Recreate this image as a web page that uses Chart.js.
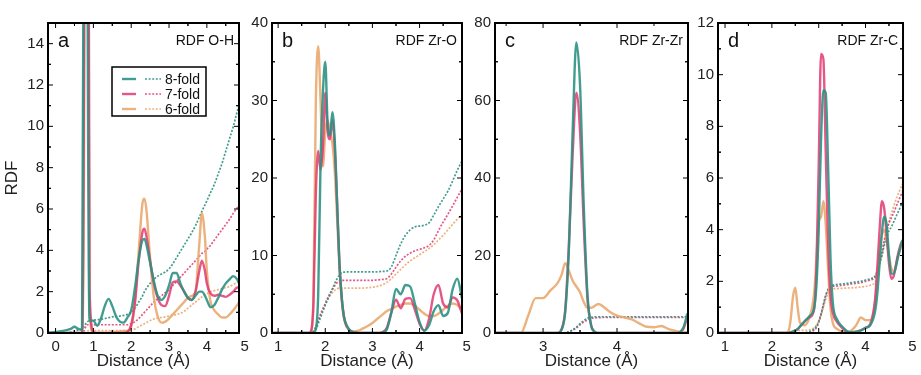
<!DOCTYPE html>
<html>
<head>
<meta charset="utf-8">
<script src="https://cdn.jsdelivr.net/npm/chart.js@4.4.1/dist/chart.umd.min.js"></script>
<style>
  html, body { margin: 0; padding: 0; background: #fff; }
  #wrap { position: relative; width: 921px; height: 375px; }
  #wrap canvas { position: absolute; left: 0; top: 0; }
</style>
</head>
<body>
<div id="wrap">
  <canvas id="chartA" width="921" height="375"></canvas>
  <canvas id="chartB" width="921" height="375"></canvas>
  <canvas id="chartC" width="921" height="375"></canvas>
  <canvas id="chartD" width="921" height="375"></canvas>
</div>
<script>
// series names (solid = RDF, dotted = running coordination number)
var seriesNames = ['8-fold', '7-fold', '6-fold'];

// ---- panel a : RDF O-H ----
var xA = [-0.2, 0, 0.2, 0.4, 0.5, 0.6, 0.7,
          0.75, 0.8, 0.85, 0.9,
          1.0, 1.1, 1.2, 1.3, 1.4, 1.5, 1.6, 1.7, 1.8, 1.9,
          2.0, 2.1, 2.2, 2.3, 2.35, 2.4,
          2.5, 2.6, 2.7, 2.8, 2.9, 3.0, 3.1, 3.2, 3.3, 3.4, 3.5, 3.6, 3.7, 3.8,
          3.87, 3.95,
          4.0, 4.1, 4.2, 4.3, 4.4, 4.5, 4.6, 4.7, 4.8, 4.9];
var tealA = [0, 0.05, 0.1, 0.2, 0.3, 0.2, 0.15,
             25, 60, 15, 0.6,
             0.6, 0.35, 0.7, 1.3, 1.65, 1.3, 0.8, 0.55, 0.5, 0.75,
             1.1, 2.2, 3.6, 4.5, 4.55, 4.3,
             3.4, 2.5, 1.8, 1.6, 1.8, 2.3, 2.9, 2.9, 2.4, 2.0, 1.7, 1.6, 1.8, 2.0,
             2.0, 1.8,
             1.6, 1.25, 1.35, 1.7, 2.1, 2.4, 2.6, 2.75, 2.6, 2.2];
var pinkA = [0, 0, 0, 0, 0, 0, 0,
             12, 55, 40, 2,
             0.05, 0, 0, 0, 0, 0, 0, 0, 0, 0.05,
             0.4, 1.5, 3.5, 4.9, 5.05, 4.7,
             3.5, 2.4, 1.7, 1.35, 1.3, 1.8, 2.45, 2.5, 2.3, 2.0, 1.7, 1.6, 2.0, 3.0,
             3.5, 3.0,
             2.4, 1.9, 1.8, 1.85, 1.8, 1.75, 1.85, 2.0, 2.2, 2.2];
var tanA = [0, 0, 0, 0, 0, 0, 0,
            8, 40, 25, 1,
            0, 0, 0, 0, 0, 0.02, 0.05, 0.08, 0.1, 0.1,
            0.3, 1.5, 4.0, 6.3, 6.5, 6.0,
            3.6, 1.7, 0.8, 0.5, 0.55, 0.7, 0.9, 1.1, 1.3, 1.5, 1.7, 1.8, 2.0, 4.3,
            5.8, 4.6,
            3.0, 1.5, 1.1, 0.9, 0.75, 0.75, 0.9, 1.1, 1.35, 1.6];
var tealCumA = [0, 0, 0, 0.05, 0.1, 0.15, 0.2,
                0.3, 0.45, 0.55, 0.6,
                0.62, 0.64, 0.66, 0.7, 0.74, 0.78, 0.8, 0.82, 0.85, 0.9,
                1.0, 1.2, 1.5, 1.8, 2.0, 2.15,
                2.4, 2.6, 2.75, 2.85, 2.95, 3.1, 3.35, 3.65, 3.95, 4.25, 4.55, 4.85, 5.2, 5.6,
                5.9, 6.2,
                6.4, 6.8, 7.2, 7.7, 8.2, 8.8, 9.4, 10.0, 10.7, 11.3];
var pinkCumA = [0, 0, 0, 0, 0, 0, 0,
                0.1, 0.3, 0.4, 0.4,
                0.4, 0.4, 0.4, 0.4, 0.4, 0.4, 0.4, 0.4, 0.4, 0.4,
                0.45, 0.55, 0.7, 0.9, 1.0, 1.1,
                1.3, 1.5, 1.65, 1.8, 1.95, 2.1, 2.3, 2.5, 2.7, 2.9, 3.1, 3.3, 3.5, 3.7,
                3.85, 3.95,
                4.05, 4.25, 4.5, 4.75, 5.0, 5.25, 5.5, 5.8, 6.05, 6.3];
var tanCumA = [0, 0, 0, 0, 0, 0, 0,
               0, 0.05, 0.1, 0.12,
               0.12, 0.12, 0.12, 0.12, 0.12, 0.12, 0.12, 0.12, 0.12, 0.12,
               0.15, 0.2, 0.3, 0.4, 0.45, 0.5,
               0.6, 0.68, 0.72, 0.75, 0.78, 0.82, 0.86, 0.9, 0.95, 1.05, 1.2, 1.35, 1.5, 1.65,
               1.75, 1.85,
               1.9, 2.0, 2.05, 2.1, 2.15, 2.2, 2.25, 2.35, 2.45, 2.55];
var xTicksA = [0, 1, 2, 3, 4, 5];
var yTicksA = [0, 2, 4, 6, 8, 10, 12, 14];

// ---- panel b : RDF Zr-O ----
var xB = [0.9, 1.0, 1.2, 1.4, 1.6, 1.65,
          1.7, 1.75, 1.8, 1.85, 1.9, 1.95, 2.0, 2.05, 2.1, 2.15, 2.2, 2.25, 2.3, 2.35, 2.4,
          2.5, 2.6, 2.7, 2.8, 2.9, 3.0, 3.1, 3.2, 3.3,
          3.4, 3.5, 3.6, 3.7, 3.8, 3.9, 4.0, 4.1, 4.2, 4.3, 4.4, 4.5, 4.6, 4.7, 4.8, 4.9];
var tealB = [0, 0, 0, 0, 0, 0,
             0, 0.1, 0.5, 5, 22, 31, 35, 27, 25.5, 28.5, 25, 17, 9, 4.5, 2,
             0.5, 0.1, 0, 0, 0, 0, 0, 0.05, 0.4,
             2.6, 5.7, 5.0, 6.2, 6.0, 3.8, 1.4, 0.3, 1.0, 2.8, 3.6, 2.2, 2.6, 5.6, 7.0, 4.5];
var pinkB = [0, 0, 0, 0, 0, 0,
             0.3, 4, 18, 23.5, 21, 24, 31, 26, 25, 27.5, 24, 17, 9, 4.5, 2,
             0.5, 0.1, 0, 0, 0, 0, 0, 0.1, 0.6,
             2.6, 4.3, 3.2, 4.4, 4.5, 3.0, 1.2, 0.3, 1.8, 5.0, 6.2, 3.8, 3.3, 4.6, 4.2, 2.5];
var tanB = [0, 0, 0, 0, 0, 0,
            0.2, 5, 30, 37, 30, 21.5, 26, 27.5, 26, 24.5, 21, 15, 8.5, 4.2, 1.8,
            0.4, 0.2, 0.3, 0.6, 0.9, 1.3, 1.8, 2.3, 2.8,
            3.1, 3.4, 3.6, 3.8, 3.8, 3.5, 3.0, 2.5, 2.2, 2.2, 2.5, 3.0, 3.5, 3.8, 3.6, 3.0];
var tealCumB = [0, 0, 0, 0, 0, 0,
                0, 0.1, 0.5, 1.2, 2.0, 2.8, 3.6, 4.3, 5.0, 5.7, 6.4, 7.0, 7.5, 7.8, 7.85,
                7.9, 7.9, 7.9, 7.9, 7.9, 7.9, 7.9, 7.95, 8.0,
                8.5, 10.0, 11.5, 12.6, 13.3, 13.7, 13.8, 13.9, 14.2, 15.2, 16.3, 17.3, 18.3, 19.6, 21.0, 22.2];
var pinkCumB = [0, 0, 0, 0, 0, 0,
                0, 0.2, 0.8, 1.6, 2.4, 3.1, 3.8, 4.5, 5.1, 5.6, 6.1, 6.5, 6.7, 6.8, 6.8,
                6.8, 6.8, 6.8, 6.8, 6.8, 6.8, 6.85, 6.9, 7.0,
                7.6, 8.5, 9.3, 9.9, 10.3, 10.6, 10.8, 11.0, 11.3, 12.0, 13.2, 14.3, 15.3, 16.4, 17.5, 18.6];
var tanCumB = [0, 0, 0, 0, 0, 0,
               0, 0.2, 0.8, 1.6, 2.4, 3.1, 3.7, 4.3, 4.8, 5.2, 5.5, 5.7, 5.8, 5.8, 5.8,
               5.8, 5.8, 5.8, 5.8, 5.85, 5.9, 6.0, 6.2, 6.5,
               7.0, 7.6, 8.2, 8.8, 9.3, 9.7, 10.1, 10.5, 10.9, 11.4, 12.0, 12.6, 13.3, 14.0, 14.7, 15.3];
var xTicksB = [1, 2, 3, 4, 5];
var yTicksB = [0, 10, 20, 30, 40];

// ---- panel c : RDF Zr-Zr ----
var xC = [2.3, 2.5, 2.7, 2.8, 2.9, 3.0, 3.1, 3.2,
          3.25, 3.3, 3.35, 3.4, 3.45, 3.5, 3.55, 3.6, 3.65, 3.7, 3.75, 3.8,
          3.9, 4.0, 4.1, 4.2, 4.3, 4.4, 4.5, 4.6, 4.7, 4.8, 4.85, 4.9, 4.95];
var tealC = [0, 0, 0, 0, 0, 0, 0, 0,
             0.8, 5.5, 22, 52, 75, 64, 33, 10, 2, 0.3, 0, 0,
             0, 0, 0, 0, 0, 0, 0, 0, 0, 0, 0.2, 1.5, 5];
var pinkC = [0, 0, 0, 0, 0, 0, 0, 0,
             1, 6, 23, 46, 62, 52, 28, 9, 2, 0.3, 0, 0,
             0, 0, 0, 0, 0, 0, 0, 0, 0, 0, 0.2, 1.2, 4];
var tanC = [0, 0, 0, 4.5, 9, 9, 11, 13,
            15, 18, 16, 13.5, 12, 10.5, 8, 6.5, 6.5, 7, 7.5, 7,
            5.5, 4.5, 4, 3.5, 2.5, 1.6, 1.5, 1.8, 1.0, 0.5, 0.3, 0.2, 0.2];
var tealCumC = [0, 0, 0, 0, 0, 0, 0, 0,
                0, 0.1, 0.3, 0.8, 1.5, 2.4, 3.2, 3.8, 4.05, 4.15, 4.2, 4.2,
                4.2, 4.2, 4.2, 4.2, 4.2, 4.2, 4.2, 4.2, 4.2, 4.2, 4.2, 4.2, 4.2];
var pinkCumC = [0, 0, 0, 0, 0, 0, 0, 0,
                0, 0.1, 0.3, 0.7, 1.3, 2.1, 2.8, 3.4, 3.75, 3.9, 3.95, 4.0,
                4.0, 4.0, 4.0, 4.0, 4.0, 4.0, 4.0, 4.0, 4.0, 4.0, 4.0, 4.0, 4.0];
var xTicksC = [3, 4];
var yTicksC = [0, 20, 40, 60, 80];

// ---- panel d : RDF Zr-C ----
var xD = [0.8, 1.0, 1.5, 2.0, 2.3,
          2.35, 2.4, 2.45, 2.5, 2.55, 2.6, 2.7, 2.8, 2.9,
          2.95, 3.0, 3.05, 3.1, 3.15, 3.2, 3.25, 3.3,
          3.4, 3.5, 3.6, 3.7, 3.8, 3.9, 4.0, 4.1, 4.2,
          4.25, 4.3, 4.35, 4.4, 4.45, 4.5, 4.55, 4.6, 4.7, 4.8, 4.9];
var tealD = [0, 0, 0, 0, 0,
             0, 0.02, 0.05, 0.1, 0.15, 0.25, 0.45, 0.65, 0.95,
             1.8, 4.0, 7.5, 9.4, 9.3, 6.5, 3.0, 1.2,
             0.5, 0.25, 0.08, 0.03, 0.05, 0.1, 0.2, 0.3, 0.8,
             1.5, 2.7, 3.9, 4.5, 4.2, 3.0, 2.3, 2.3, 3.0, 3.6, 3.5];
var pinkD = [0, 0, 0, 0, 0,
             0, 0.02, 0.05, 0.1, 0.15, 0.25, 0.45, 0.6, 0.9,
             2.5, 6.5, 10.8, 10.6, 7.0, 3.5, 1.5, 0.8,
             0.4, 0.2, 0.05, 0.02, 0.05, 0.1, 0.2, 0.35, 1.2,
             2.5, 4.0, 5.1, 4.8, 3.8, 2.7, 2.1, 2.2, 3.1, 3.6, 3.4];
var tanD = [0, 0, 0, 0, 0,
            0.05, 0.5, 1.4, 1.75, 1.0, 0.4, 0.3, 0.6, 1.5,
            2.8, 4.3, 4.5, 5.1, 4.2, 2.5, 1.0, 0.4,
            0.15, 0.05, 0.02, 0.1, 0.3, 0.6, 0.5, 0.5, 1.2,
            2.2, 3.2, 3.8, 4.0, 3.6, 3.0, 2.5, 2.4, 3.0, 3.5, 3.6];
var tealCumD = [0, 0, 0, 0, 0,
                0, 0, 0, 0, 0, 0, 0, 0.05, 0.15,
                0.25, 0.45, 0.75, 1.1, 1.45, 1.7, 1.8, 1.85,
                1.88, 1.9, 1.92, 1.95, 1.98, 2.0, 2.05, 2.1, 2.2,
                2.4, 2.7, 3.0, 3.4, 3.7, 3.95, 4.1, 4.3, 4.7, 5.1, 5.4];
var pinkCumD = [0, 0, 0, 0, 0,
                0, 0, 0, 0, 0, 0, 0, 0.03, 0.1,
                0.2, 0.4, 0.7, 1.1, 1.45, 1.65, 1.75, 1.8,
                1.82, 1.85, 1.87, 1.9, 1.92, 1.95, 2.0, 2.05, 2.15,
                2.4, 2.75, 3.15, 3.6, 3.95, 4.25, 4.45, 4.65, 5.1, 5.5, 5.8];
var tanCumD = [0, 0, 0, 0, 0,
               0, 0, 0.02, 0.05, 0.08, 0.1, 0.1, 0.12, 0.2,
               0.3, 0.45, 0.7, 1.0, 1.3, 1.55, 1.65, 1.7,
               1.72, 1.73, 1.74, 1.75, 1.76, 1.78, 1.8, 1.85, 1.95,
               2.2, 2.6, 3.0, 3.5, 3.9, 4.3, 4.6, 4.9, 5.4, 5.8, 6.1];
var xTicksD = [1, 2, 3, 4, 5];
var yTicksD = [0, 2, 4, 6, 8, 10, 12];

// colours
var tealColor = 'rgba(46,146,132,0.9)';
var pinkColor = 'rgba(226,58,112,0.85)';
var tanColor = 'rgba(233,170,112,0.9)';
var seriesColors = [tealColor, pinkColor, tanColor];
var fontFamily = "'Liberation Sans', Arial, sans-serif";

function pts(xs, ys) {
    return xs.map(function (v, i) { return { x: v, y: ys[i] }; });
}

function solidLine(label, xs, ys, color) {
    return {
        label: label, data: pts(xs, ys), borderColor: color, borderWidth: 2.4,
        pointRadius: 0, fill: false, cubicInterpolationMode: 'monotone'
    };
}

function dottedLine(label, xs, ys, color) {
    return {
        label: label, data: pts(xs, ys), borderColor: color, borderWidth: 1.7,
        borderDash: [2, 1.6], pointRadius: 0, fill: false, cubicInterpolationMode: 'monotone'
    };
}

// frame, inward tick marks, panel letter + title, and the legend box of panel a
var panelPlugin = {
    id: 'panelDeco',
    afterDraw: function (chart, args, opts) {
        var c = chart.ctx, a = chart.chartArea;
        c.save();
        c.strokeStyle = '#000';
        c.lineWidth = 1;
        var xs = chart.scales.x, ys = chart.scales.y;
        function marks(scale, horizontal) {
            var vals = scale.ticks.map(function (t) { return t.value; });
            var step = vals[1] - vals[0];
            var all = [];
            vals.forEach(function (v) { all.push([v, 5]); all.push([v + step / 2, 3]); all.push([v - step / 2, 3]); });
            all.forEach(function (m) {
                var p = scale.getPixelForValue(m[0]);
                c.beginPath();
                if (horizontal) {
                    if (p <= a.left + 1 || p >= a.right - 1) return;
                    c.moveTo(p, a.bottom); c.lineTo(p, a.bottom - m[1]);
                    c.moveTo(p, a.top); c.lineTo(p, a.top + m[1]);
                } else {
                    if (p <= a.top + 1 || p >= a.bottom - 1) return;
                    c.moveTo(a.left, p); c.lineTo(a.left + m[1], p);
                    c.moveTo(a.right, p); c.lineTo(a.right - m[1], p);
                }
                c.stroke();
            });
        }
        marks(xs, true);
        marks(ys, false);
        c.lineWidth = 2;
        c.strokeRect(a.left, a.top, a.right - a.left, a.bottom - a.top);

        c.fillStyle = '#111';
        c.textBaseline = 'middle';
        c.font = '20px ' + fontFamily;
        c.textAlign = 'left';
        c.fillText(opts.letter, a.left + 10, a.top + 18);
        c.font = '14px ' + fontFamily;
        c.textAlign = 'right';
        c.fillText(opts.title, a.right - 5, a.top + 18);

        if (opts.legend) {
            var bx = a.left + 64, by = a.top + 44, bw = 94, bh = 49;
            c.fillStyle = '#fff';
            c.fillRect(bx, by, bw, bh);
            c.lineWidth = 1.5;
            c.strokeStyle = '#000';
            c.strokeRect(bx, by, bw, bh);
            c.font = '14px ' + fontFamily;
            c.textAlign = 'left';
            seriesNames.forEach(function (name, i) {
                var y = by + 12 + i * 15;
                c.strokeStyle = seriesColors[i];
                c.lineWidth = 2.4;
                c.setLineDash([]);
                c.beginPath(); c.moveTo(bx + 10, y); c.lineTo(bx + 24, y); c.stroke();
                c.lineWidth = 1.7;
                c.setLineDash([2, 1.6]);
                c.beginPath(); c.moveTo(bx + 33, y); c.lineTo(bx + 49, y); c.stroke();
                c.setLineDash([]);
                c.fillStyle = '#111';
                c.fillText(name, bx + 53, y + 1);
            });
        }
        c.restore();
    }
};

function makePanel(id, p) {
    var ctx = document.getElementById(id).getContext('2d');
    var sets = [
        solidLine(seriesNames[0], p.x, p.teal, tealColor),
        solidLine(seriesNames[1], p.x, p.pink, pinkColor),
        solidLine(seriesNames[2], p.x, p.tan, tanColor)
    ];
    p.cums.forEach(function (cum, i) {
        sets.push(dottedLine(seriesNames[i] + ' N', p.x, cum, seriesColors[i]));
    });
    return new Chart(ctx, {
        type: 'line',
        data: { datasets: sets },
        options: {
            responsive: false,
            animation: false,
            layout: { padding: { left: p.left - p.yWidth, right: 921 - p.right, top: 23, bottom: 0 } },
            scales: {
                x: {
                    type: 'linear', min: p.xMin, max: p.xMax,
                    grid: { display: false, drawTicks: false },
                    border: { display: false },
                    ticks: { color: '#222', font: { size: 15, family: fontFamily }, padding: 5, autoSkip: false, maxRotation: 0 },
                    afterBuildTicks: function (s) { s.ticks = p.xTicks.map(function (v) { return { value: v }; }); },
                    afterFit: function (s) { s.height = 42; },
                    title: { display: true, text: 'Distance (Å)', color: '#222', font: { size: 17, family: fontFamily }, padding: { top: 0, bottom: 3 } }
                },
                y: {
                    min: 0, max: p.yMax,
                    grid: { display: false, drawTicks: false },
                    border: { display: false },
                    ticks: { color: '#222', font: { size: 15, family: fontFamily }, padding: 4 },
                    afterBuildTicks: function (s) { s.ticks = p.yTicks.map(function (v) { return { value: v }; }); },
                    afterFit: function (s) { s.width = p.yWidth; },
                    title: { display: !!p.yTitle, text: p.yTitle || '', color: '#222', font: { size: 17, family: fontFamily }, padding: { top: 2, bottom: 0 } }
                }
            },
            plugins: {
                legend: { display: false },
                tooltip: { enabled: false },
                panelDeco: { letter: p.letter, title: p.title, legend: !!p.legend }
            }
        },
        plugins: [panelPlugin]
    });
}

makePanel('chartA', {
    x: xA, teal: tealA, pink: pinkA, tan: tanA, cums: [tealCumA, pinkCumA, tanCumA],
    xTicks: xTicksA, yTicks: yTicksA, xMin: -0.2, xMax: 4.85, yMax: 15,
    left: 48, right: 239, yWidth: 48, yTitle: 'RDF', letter: 'a', title: 'RDF O-H', legend: true
});
makePanel('chartB', {
    x: xB, teal: tealB, pink: pinkB, tan: tanB, cums: [tealCumB, pinkCumB, tanCumB],
    xTicks: xTicksB, yTicks: yTicksB, xMin: 0.87, xMax: 4.9, yMax: 40,
    left: 272, right: 462, yWidth: 40, letter: 'b', title: 'RDF Zr-O'
});
makePanel('chartC', {
    x: xC, teal: tealC, pink: pinkC, tan: tanC, cums: [tealCumC, pinkCumC],
    xTicks: xTicksC, yTicks: yTicksC, xMin: 2.35, xMax: 4.96, yMax: 80,
    left: 495, right: 688, yWidth: 40, letter: 'c', title: 'RDF Zr-Zr'
});
makePanel('chartD', {
    x: xD, teal: tealD, pink: pinkD, tan: tanD, cums: [tealCumD, pinkCumD, tanCumD],
    xTicks: xTicksD, yTicks: yTicksD, xMin: 0.85, xMax: 4.8, yMax: 12,
    left: 718, right: 910, yWidth: 40, letter: 'd', title: 'RDF Zr-C'
});
</script>
</body>
</html>
